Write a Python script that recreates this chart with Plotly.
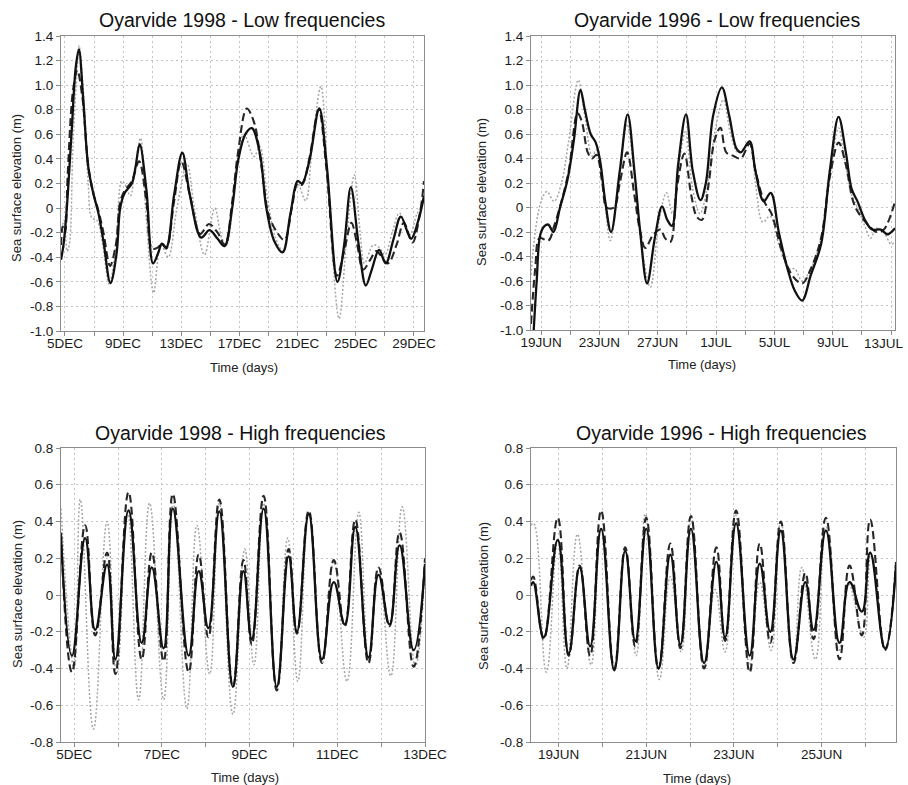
import plotly.graph_objects as go

# ---------------- DATA ----------------
# Panel 1: Oyarvide 1998 - Low frequencies (x = day of December)
p1_solid_x = [4.73, 4.9, 5.1, 5.45, 5.75, 5.96, 6.25, 6.6, 6.95, 7.3, 7.65, 8.13, 8.55, 8.8, 9.1, 9.6, 9.85, 10.14, 10.6, 11.06, 11.4, 11.67, 11.97, 12.5, 13.07, 13.6, 14.37, 14.94, 15.5, 15.97, 16.5, 16.9, 17.4, 17.85, 18.4, 18.85, 19.4, 19.97, 20.5, 21.0, 21.3, 21.8, 22.49, 23.0, 23.74, 24.2, 24.66, 25.2, 25.69, 26.1, 26.6, 27.06, 27.6, 28.1, 28.8, 29.3, 29.69]
p1_solid_y = [-0.42, -0.3, -0.05, 0.6, 1.15, 1.29, 0.9, 0.34, 0.12, -0.04, -0.27, -0.61, -0.37, 0.0, 0.12, 0.2, 0.33, 0.52, 0.15, -0.45, -0.37, -0.29, -0.32, 0.1, 0.45, 0.1, -0.24, -0.18, -0.25, -0.31, 0.0, 0.38, 0.6, 0.65, 0.45, 0.0, -0.27, -0.36, -0.05, 0.22, 0.2, 0.38, 0.81, 0.35, -0.6, -0.3, 0.17, -0.3, -0.63, -0.5, -0.34, -0.45, -0.25, -0.07, -0.25, -0.1, 0.1]
p1_dash_x = [4.73, 4.85, 5.0, 5.2, 5.55, 5.85, 6.2, 6.6, 6.95, 7.3, 7.65, 8.1, 8.5, 8.8, 9.1, 9.6, 10.1, 10.6, 11.0, 11.4, 11.67, 11.97, 12.5, 13.0, 13.6, 14.3, 14.9, 15.5, 16.0, 16.5, 16.9, 17.5, 18.0, 18.5, 19.0, 19.6, 20.1, 20.6, 21.0, 21.3, 21.8, 22.45, 23.0, 23.7, 24.2, 24.7, 25.1, 25.5, 26.0, 26.4, 27.2, 27.8, 28.3, 28.9, 29.4, 29.69]
p1_dash_y = [-0.3, -0.15, -0.2, 0.3, 0.95, 1.12, 0.9, 0.35, 0.12, -0.02, -0.2, -0.47, -0.3, 0.05, 0.14, 0.22, 0.38, 0.05, -0.33, -0.32, -0.29, -0.33, 0.05, 0.38, 0.1, -0.21, -0.13, -0.2, -0.3, 0.05, 0.45, 0.81, 0.7, 0.35, -0.05, -0.2, -0.26, 0.0, 0.2, 0.19, 0.4, 0.8, 0.3, -0.55, -0.35, -0.12, -0.3, -0.5, -0.42, -0.35, -0.45, -0.3, -0.12, -0.28, -0.05, 0.22]
p1_dot_x = [4.73, 4.95, 5.15, 5.3, 5.55, 5.85, 5.98, 6.3, 6.6, 6.85, 7.2, 7.6, 8.05, 8.5, 8.9, 9.1, 9.5, 9.8, 10.2, 10.6, 11.1, 11.6, 12.1, 12.7, 13.4, 13.9, 14.6, 15.3, 15.8, 16.1, 16.7, 17.3, 18.0, 18.4, 18.9, 19.5, 20.0, 20.5, 21.0, 21.55, 22.0, 22.6, 23.1, 23.85, 24.4, 24.9, 25.3, 25.6, 26.2, 26.6, 27.0, 27.5, 28.0, 28.7, 29.2, 29.69]
p1_dot_y = [-0.2, -0.1, -0.35, -0.3, 0.5, 1.15, 1.32, 0.9, 0.2, -0.08, -0.1, -0.3, -0.62, -0.3, 0.22, 0.2, 0.1, 0.3, 0.57, -0.1, -0.69, -0.3, -0.4, 0.0, 0.36, 0.0, -0.38, 0.0, -0.25, -0.3, 0.2, 0.6, 0.42, 0.5, 0.1, -0.25, -0.35, -0.05, 0.2, 0.06, 0.5, 0.99, 0.2, -0.9, -0.2, 0.27, -0.2, -0.45, -0.3, -0.32, -0.38, -0.2, -0.04, -0.22, -0.05, 0.05]

# Panel 2: Oyarvide 1996 - Low frequencies (x = day counted from 1 June)
p2_solid_x = [18.45, 18.7, 18.95, 19.25, 19.5, 19.85, 20.3, 20.8, 21.25, 21.7, 22.0, 22.4, 22.75, 23.05, 23.4, 23.8, 24.4, 24.94, 25.4, 25.8, 26.27, 26.8, 27.3, 27.65, 27.98, 28.4, 28.94, 29.4, 29.93, 30.3, 30.8, 31.4, 31.9, 32.4, 32.7, 33.3, 33.7, 34.27, 34.75, 35.3, 35.9, 36.4, 36.9, 37.5, 38.2, 38.8, 39.4, 39.9, 40.3, 40.7, 41.2, 41.7, 42.3, 42.75, 43.27]
p2_solid_y = [-1.1, -0.6, -0.22, -0.15, -0.14, -0.2, 0.0, 0.22, 0.55, 0.96, 0.8, 0.6, 0.53, 0.38, 0.05, -0.2, 0.3, 0.76, 0.3, -0.2, -0.62, -0.25, 0.01, -0.1, -0.15, 0.35, 0.76, 0.3, 0.06, 0.2, 0.75, 0.98, 0.75, 0.48, 0.45, 0.54, 0.3, 0.05, 0.12, -0.2, -0.5, -0.68, -0.76, -0.55, -0.3, 0.3, 0.74, 0.45, 0.15, 0.05, -0.1, -0.18, -0.18, -0.22, -0.17]
p2_dash_x = [18.31, 18.6, 18.9, 19.5, 19.9, 20.4, 20.9, 21.5, 21.8, 22.2, 22.5, 22.8, 23.2, 23.5, 24.0, 24.4, 24.9, 25.4, 25.8, 26.15, 26.7, 27.2, 27.5, 27.87, 28.3, 28.83, 29.3, 29.7, 30.04, 30.5, 30.9, 31.3, 31.7, 32.2, 32.7, 33.3, 33.7, 34.3, 34.8, 35.5, 36.2, 36.9, 37.5, 38.2, 38.8, 39.4, 39.9, 40.4, 40.8, 41.5, 42.0, 42.5, 43.27]
p2_dash_y = [-0.95, -0.5, -0.25, -0.27, -0.15, 0.05, 0.3, 0.77, 0.7, 0.45, 0.4, 0.43, 0.2, 0.0, 0.0, 0.2, 0.45, 0.1, -0.2, -0.33, -0.22, -0.18, -0.25, -0.28, 0.15, 0.44, 0.1, -0.08, -0.1, 0.2, 0.55, 0.65, 0.45, 0.42, 0.4, 0.52, 0.3, 0.05, -0.05, -0.35, -0.55, -0.62, -0.5, -0.25, 0.25, 0.53, 0.35, 0.05, -0.05, -0.15, -0.2, -0.18, 0.05]
p2_dot_x = [18.31, 18.6, 19.0, 19.4, 19.9, 20.4, 20.9, 21.55, 22.0, 22.5, 22.8, 23.2, 23.75, 24.3, 24.9, 25.4, 26.0, 26.5, 27.1, 27.6, 28.0, 28.4, 28.9, 29.4, 29.9, 30.3, 30.9, 31.5, 32.0, 32.5, 33.3, 33.7, 34.2, 34.7, 35.3, 36.0, 36.4, 36.9, 37.5, 38.2, 38.8, 39.4, 39.8, 40.3, 40.7, 41.2, 41.6, 42.0, 42.5, 43.0, 43.27]
p2_dot_y = [-0.55, -0.2, 0.05, 0.13, 0.05, 0.2, 0.55, 1.04, 0.75, 0.42, 0.47, 0.25, -0.27, 0.2, 0.68, 0.25, -0.4, -0.65, -0.1, 0.12, -0.05, 0.3, 0.62, 0.15, -0.05, 0.1, 0.6, 0.88, 0.6, 0.45, 0.52, 0.2, -0.12, -0.07, -0.3, -0.5, -0.5, -0.6, -0.5, -0.25, 0.25, 0.65, 0.4, 0.1, 0.0, -0.15, -0.25, -0.17, -0.2, -0.3, -0.28]

# Panel 3: Oyarvide 1998 - High frequencies (x = day of December)
p3_solid_x = [4.70, 4.95, 5.25, 5.48, 5.75, 5.94, 6.24, 6.54, 6.77, 7.04, 7.25, 7.61, 7.84, 8.06, 8.31, 8.62, 8.86, 9.05, 9.32, 9.62, 9.89, 10.08, 10.35, 10.65, 10.92, 11.17, 11.41, 11.71, 11.94, 12.19, 12.42, 12.74, 13.0]
p3_solid_y = [0.32, -0.33, 0.31, -0.19, 0.165, -0.35, 0.46, -0.26, 0.15, -0.29, 0.47, -0.33, 0.13, -0.18, 0.455, -0.50, 0.13, -0.24, 0.47, -0.50, 0.21, -0.20, 0.44, -0.35, 0.07, -0.16, 0.37, -0.34, 0.11, -0.16, 0.27, -0.30, 0.17]
p3_dash_x = p3_solid_x
p3_dash_y = [0.34, -0.42, 0.38, -0.22, 0.23, -0.43, 0.56, -0.35, 0.23, -0.36, 0.55, -0.42, 0.22, -0.23, 0.52, -0.50, 0.19, -0.27, 0.54, -0.52, 0.25, -0.21, 0.46, -0.37, 0.19, -0.17, 0.41, -0.37, 0.15, -0.17, 0.34, -0.39, 0.20]
p3_dot_x = [4.70, 5.0, 5.14, 5.44, 5.75, 5.97, 6.22, 6.47, 6.72, 7.04, 7.26, 7.57, 7.8, 8.09, 8.31, 8.62, 8.89, 9.1, 9.32, 9.62, 9.87, 10.1, 10.35, 10.66, 10.92, 11.22, 11.49, 11.72, 11.94, 12.22, 12.48, 12.78, 13.0]
p3_dot_y = [0.47, -0.40, 0.52, -0.73, 0.40, -0.43, 0.45, -0.57, 0.50, -0.57, 0.50, -0.62, 0.38, -0.43, 0.50, -0.65, 0.25, -0.38, 0.50, -0.50, 0.31, -0.47, 0.44, -0.37, 0.18, -0.47, 0.45, -0.36, 0.15, -0.44, 0.48, -0.39, 0.15]

# Panel 4: Oyarvide 1996 - High frequencies (x = day of June)
p4_solid_x = [18.37, 18.42, 18.66, 18.98, 19.23, 19.48, 19.72, 19.97, 20.27, 20.52, 20.75, 21.0, 21.28, 21.55, 21.78, 22.02, 22.32, 22.6, 22.8, 23.05, 23.36, 23.59, 23.83, 24.07, 24.36, 24.63, 24.82, 25.1, 25.41, 25.64, 25.92, 26.11, 26.45, 26.70]
p4_solid_y = [0.05, 0.07, -0.23, 0.30, -0.32, 0.15, -0.28, 0.36, -0.41, 0.24, -0.25, 0.36, -0.40, 0.22, -0.27, 0.36, -0.37, 0.18, -0.23, 0.39, -0.33, 0.17, -0.20, 0.35, -0.35, 0.07, -0.19, 0.35, -0.26, 0.07, -0.09, 0.23, -0.29, 0.16]
p4_dash_x = p4_solid_x
p4_dash_y = [0.08, 0.10, -0.24, 0.42, -0.33, 0.16, -0.33, 0.46, -0.40, 0.26, -0.28, 0.42, -0.40, 0.28, -0.29, 0.43, -0.40, 0.26, -0.25, 0.46, -0.42, 0.28, -0.26, 0.40, -0.37, 0.12, -0.24, 0.42, -0.35, 0.16, -0.22, 0.41, -0.30, 0.18]
p4_dot_x = [18.37, 18.43, 18.72, 18.98, 19.19, 19.43, 19.74, 19.97, 20.27, 20.52, 20.77, 20.98, 21.3, 21.55, 21.8, 22.02, 22.32, 22.57, 22.8, 23.03, 23.36, 23.59, 23.85, 24.07, 24.36, 24.55, 24.86, 25.1, 25.4, 25.62, 25.96, 26.13, 26.45, 26.70]
p4_dot_y = [0.38, 0.39, -0.42, 0.30, -0.40, 0.33, -0.38, 0.36, -0.41, 0.24, -0.33, 0.44, -0.46, 0.10, -0.31, 0.43, -0.40, 0.03, -0.31, 0.44, -0.38, 0.07, -0.30, 0.40, -0.37, 0.15, -0.35, 0.37, -0.30, 0.06, -0.23, 0.22, -0.30, 0.18]

# Tick labels
p1_tickvals = [5, 7, 9, 11, 13, 15, 17, 19, 21, 23, 25, 27, 29]
p1_ticktext = ["5DEC", "", "9DEC", "", "13DEC", "", "17DEC", "", "21DEC", "", "25DEC", "", "29DEC"]
p2_tickvals = [19, 21, 23, 25, 27, 29, 31, 33, 35, 37, 39, 41, 43]
p2_ticktext = ["19JUN", "", "23JUN", "", "27JUN", "", "1JUL", "", "5JUL", "", "9JUL", "", ""]
p2_last_label = "13JUL"   # drawn as a separate text so it stays inside the page edge
p3_tickvals = [5, 6, 7, 8, 9, 10, 11, 12, 13]
p3_ticktext = ["5DEC", "", "7DEC", "", "9DEC", "", "11DEC", "", "13DEC"]
p4_tickvals = [19, 20, 21, 22, 23, 24, 25, 26]
p4_ticktext = ["19JUN", "", "21JUN", "", "23JUN", "", "25JUN", ""]
low_yvals = [1.4, 1.2, 1.0, 0.8, 0.6, 0.4, 0.2, 0, -0.2, -0.4, -0.6, -0.8, -1.0]
low_ytext = ["1.4", "1.2", "1.0", "0.8", "0.6", "0.4", "0.2", "0", "-0.2", "-0.4", "-0.6", "-0.8", "-1.0"]
high_yvals = [0.8, 0.6, 0.4, 0.2, 0, -0.2, -0.4, -0.6, -0.8]
high_ytext = ["0.8", "0.6", "0.4", "0.2", "0", "-0.2", "-0.4", "-0.6", "-0.8"]

titles = ["Oyarvide 1998 - Low frequencies", "Oyarvide 1996 - Low frequencies",
          "Oyarvide 1998 - High frequencies", "Oyarvide 1996 - High frequencies"]

# ---------------- FIGURE ----------------
W, H = 908, 785
FONT = "Liberation Sans, Arial, sans-serif"

fig = go.Figure()

panels = [
    dict(s=(p1_solid_x, p1_solid_y), d=(p1_dash_x, p1_dash_y), o=(p1_dot_x, p1_dot_y),
         box=(61, 424, 36, 331), xr=[4.73, 29.69], yr=[-1.0, 1.4], sm=1.0,
         tv=p1_tickvals, tt=p1_ticktext, yv=low_yvals, yt=low_ytext,
         title=(242, 20), ytitle=(17, 188), xtitle=(244, 367)),
    dict(s=(p2_solid_x, p2_solid_y), d=(p2_dash_x, p2_dash_y), o=(p2_dot_x, p2_dot_y),
         box=(531, 895, 36, 330), xr=[18.31, 43.27], yr=[-1.0, 1.4], sm=1.0,
         tv=p2_tickvals, tt=p2_ticktext, yv=low_yvals, yt=low_ytext,
         title=(717, 20), ytitle=(482, 192), xtitle=(702, 364)),
    dict(s=(p3_solid_x, p3_solid_y), d=(p3_dash_x, p3_dash_y), o=(p3_dot_x, p3_dot_y),
         box=(61, 425, 448, 742), xr=[4.70, 13.0], yr=[-0.8, 0.8], sm=1.3,
         tv=p3_tickvals, tt=p3_ticktext, yv=high_yvals, yt=high_ytext,
         title=(240, 433), ytitle=(17, 594), xtitle=(245, 777)),
    dict(s=(p4_solid_x, p4_solid_y), d=(p4_dash_x, p4_dash_y), o=(p4_dot_x, p4_dot_y),
         box=(531, 896, 448, 742), xr=[18.37, 26.70], yr=[-0.8, 0.8], sm=1.3,
         tv=p4_tickvals, tt=p4_ticktext, yv=high_yvals, yt=high_ytext,
         title=(721, 433), ytitle=(483, 596), xtitle=(697, 778)),
]

TICKFONT = dict(family=FONT, size=13.5, color="#1a1a1a")
annotations = []
for i, p in enumerate(panels, start=1):
    xa = "x" if i == 1 else f"x{i}"
    ya = "y" if i == 1 else f"y{i}"
    x0, x1, y0, y1 = p["box"]
    sm = p["sm"]
    fig.add_trace(go.Scatter(x=p["o"][0], y=p["o"][1], mode="lines", xaxis=xa, yaxis=ya,
                             line=dict(color="#a5a5a5", width=1.5, dash="2px,2px", shape="spline", smoothing=sm),
                             showlegend=False))
    fig.add_trace(go.Scatter(x=p["d"][0], y=p["d"][1], mode="lines", xaxis=xa, yaxis=ya,
                             line=dict(color="#262626", width=2.1, dash="8px,4px", shape="spline", smoothing=sm),
                             showlegend=False))
    fig.add_trace(go.Scatter(x=p["s"][0], y=p["s"][1], mode="lines", xaxis=xa, yaxis=ya,
                             line=dict(color="#111111", width=2.3, shape="spline", smoothing=sm),
                             showlegend=False))
    axcommon = dict(showline=True, mirror=True, linecolor="#8c8c8c", linewidth=1.2,
                    showgrid=True, gridcolor="#c4c4c4", griddash="2px,3px", gridwidth=1,
                    zeroline=False, ticks="outside", ticklen=4, tickcolor="#8c8c8c",
                    automargin=False, tickfont=TICKFONT)
    fig.layout[("xaxis" if i == 1 else f"xaxis{i}")] = dict(
        domain=[x0 / W, x1 / W], anchor=ya, range=p["xr"], tickmode="array",
        tickvals=p["tv"], ticktext=p["tt"], ticklabelstandoff=-4, **axcommon)
    fig.layout[("yaxis" if i == 1 else f"yaxis{i}")] = dict(
        domain=[1 - y1 / H, 1 - y0 / H], anchor=xa, range=p["yr"], tickmode="array",
        tickvals=p["yv"], ticktext=p["yt"], **axcommon)
    annotations.append(dict(text=titles[i - 1], x=p["title"][0] / W, y=1 - p["title"][1] / H,
                            xref="paper", yref="paper", showarrow=False, xanchor="center", yanchor="middle",
                            font=dict(family=FONT, size=19.5, color="#111")))
    annotations.append(dict(text="Sea surface elevation (m)", x=p["ytitle"][0] / W, y=1 - p["ytitle"][1] / H,
                            xref="paper", yref="paper", showarrow=False, textangle=-90,
                            xanchor="center", yanchor="middle",
                            font=dict(family=FONT, size=13, color="#222")))
    annotations.append(dict(text="Time (days)", x=p["xtitle"][0] / W, y=1 - p["xtitle"][1] / H,
                            xref="paper", yref="paper", showarrow=False, xanchor="center", yanchor="middle",
                            font=dict(family=FONT, size=13, color="#222")))

# last label of panel 2 axis, kept within the page
annotations.append(dict(text=p2_last_label, x=906 / W, y=1 - 343 / H, xref="paper", yref="paper",
                        showarrow=False, xanchor="right", yanchor="middle", font=TICKFONT))

fig.update_layout(width=W, height=H, margin=dict(l=0, r=0, t=0, b=0, autoexpand=False),
                  paper_bgcolor="white", plot_bgcolor="white", font=dict(family=FONT),
                  annotations=annotations, showlegend=False)

fig.write_html("out.html")
